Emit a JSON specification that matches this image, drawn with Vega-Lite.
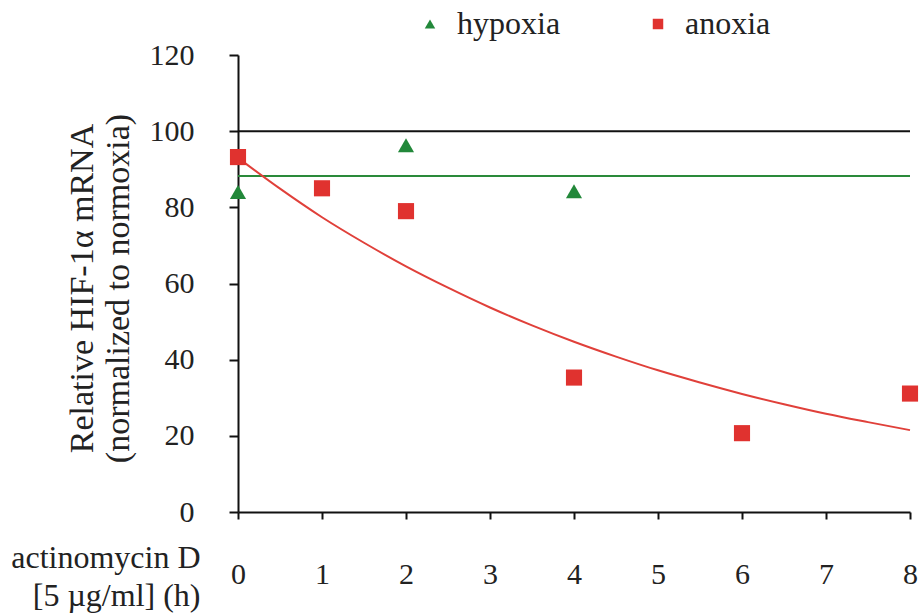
{
  "$schema": "https://vega.github.io/schema/vega-lite/v6.json",
  "width": 672,
  "height": 457,
  "autosize": {"type": "none"},
  "padding": {"left": 238, "top": 55, "right": 11, "bottom": 102},
  "config": {
    "font": "Times New Roman",
    "view": {"stroke": null},
    "axis": {
      "grid": false,
      "domainColor": "#111",
      "domainWidth": 2,
      "tickColor": "#111",
      "tickWidth": 2,
      "labelColor": "#222",
      "labelFont": "Times New Roman",
      "labelFontSize": 30,
      "titleFont": "Times New Roman",
      "titleFontSize": 32,
      "titleFontWeight": "normal",
      "titleColor": "#222"
    },
    "legend": {
      "labelFont": "Times New Roman",
      "labelFontSize": 32,
      "labelColor": "#222",
      "padding": 0
    }
  },
  "datasets": {
    "points": [
      {"series": "hypoxia", "time": 0, "value": 84.0},
      {"series": "hypoxia", "time": 2, "value": 96.3},
      {"series": "hypoxia", "time": 4, "value": 84.2},
      {"series": "anoxia", "time": 0, "value": 93.2},
      {"series": "anoxia", "time": 1, "value": 85.0},
      {"series": "anoxia", "time": 2, "value": 79.0},
      {"series": "anoxia", "time": 4, "value": 35.3},
      {"series": "anoxia", "time": 6, "value": 20.7},
      {"series": "anoxia", "time": 8, "value": 31.1}
    ],
    "fit": [
      {"time": 0, "value": 93.0},
      {"time": 0.5, "value": 84.9},
      {"time": 1, "value": 77.4},
      {"time": 1.5, "value": 70.7},
      {"time": 2, "value": 64.5},
      {"time": 2.5, "value": 58.9},
      {"time": 3, "value": 53.7},
      {"time": 3.5, "value": 49.0},
      {"time": 4, "value": 44.7},
      {"time": 4.5, "value": 40.8},
      {"time": 5, "value": 37.2},
      {"time": 5.5, "value": 34.0},
      {"time": 6, "value": 31.0},
      {"time": 6.5, "value": 28.3},
      {"time": 7, "value": 25.8},
      {"time": 7.5, "value": 23.6},
      {"time": 8, "value": 21.5}
    ],
    "refs": [
      {"name": "normoxia", "value": 100},
      {"name": "hypoxia mean", "value": 88.2}
    ]
  },
  "layer": [
    {
      "data": {"name": "refs"},
      "transform": [{"filter": "datum.name == 'normoxia'"}],
      "mark": {"type": "rule", "strokeWidth": 2, "color": "#111111"},
      "encoding": {
        "y": {"field": "value", "type": "quantitative", "scale": {"domain": [0, 120], "nice": false}}
      }
    },
    {
      "data": {"name": "refs"},
      "transform": [{"filter": "datum.name == 'hypoxia mean'"}],
      "mark": {"type": "rule", "strokeWidth": 2, "color": "#2a8a3a"},
      "encoding": {
        "y": {"field": "value", "type": "quantitative"}
      }
    },
    {
      "data": {"name": "fit"},
      "mark": {"type": "line", "color": "#e0403a", "strokeWidth": 2, "interpolate": "monotone"},
      "encoding": {
        "x": {"field": "time", "type": "quantitative"},
        "y": {"field": "value", "type": "quantitative"}
      }
    },
    {
      "data": {"name": "points"},
      "mark": {"type": "point", "filled": true, "opacity": 1, "size": 260},
      "encoding": {
        "x": {
          "field": "time",
          "type": "quantitative",
          "scale": {"domain": [0, 8], "nice": false},
          "axis": {
            "values": [0, 1, 2, 3, 4, 5, 6, 7, 8],
            "format": "d",
            "tickSize": 7,
            "labelPadding": 40,
            "labelFlush": false,
            "title": ["actinomycin D", "[5 µg/ml] (h)"],
            "titleAngle": 0,
            "titleAlign": "right",
            "titleBaseline": "alphabetic",
            "titleX": -38,
            "titleY": 55,
            "titleLineHeight": 38
          }
        },
        "y": {
          "field": "value",
          "type": "quantitative",
          "scale": {"domain": [0, 120], "nice": false},
          "axis": {
            "values": [0, 20, 40, 60, 80, 100, 120],
            "format": "d",
            "tickSize": 9,
            "labelPadding": 35,
            "title": ["Relative HIF-1α mRNA", "(normalized to normoxia)"],
            "titleFontSize": 34,
            "titleAngle": -90,
            "titleAlign": "center",
            "titleBaseline": "alphabetic",
            "titleX": -146,
            "titleY": 233,
            "titleLineHeight": 36
          }
        },
        "color": {
          "field": "series",
          "type": "nominal",
          "scale": {"domain": ["hypoxia", "anoxia"], "range": ["#22883a", "#e0322f"]},
          "legend": {
            "orient": "none",
            "direction": "horizontal",
            "legendX": 176,
            "legendY": -47,
            "title": null,
            "symbolSize": 110,
            "labelOffset": 11,
            "columnPadding": 81
          }
        },
        "shape": {
          "field": "series",
          "type": "nominal",
          "scale": {"domain": ["hypoxia", "anoxia"], "range": ["triangle-up", "square"]},
          "legend": {
            "orient": "none",
            "direction": "horizontal",
            "legendX": 176,
            "legendY": -47,
            "title": null,
            "symbolSize": 110,
            "labelOffset": 11,
            "columnPadding": 81
          }
        }
      }
    }
  ]
}
